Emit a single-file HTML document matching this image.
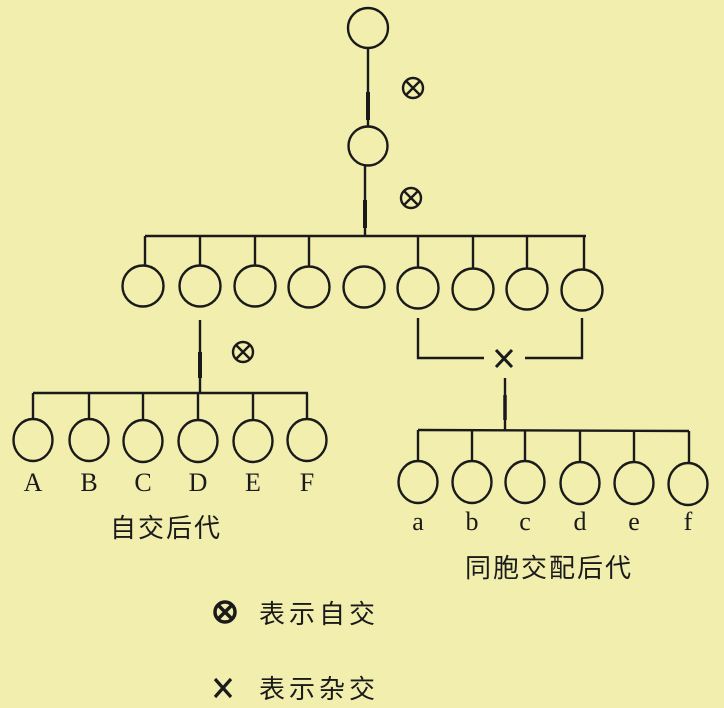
<!DOCTYPE html>
<html><head><meta charset="utf-8"><style>
html,body{margin:0;padding:0;background:#f1eeae;}
svg{display:block}
text{font-family:"Liberation Serif","Noto Serif CJK SC",serif;fill:#1a1a1a}
.c{font-family:"Liberation Sans","Noto Sans CJK SC",sans-serif}
</style></head><body>
<svg width="724" height="708" viewBox="0 0 724 708" xmlns="http://www.w3.org/2000/svg">
<rect width="724" height="708" fill="#f1eeae"/>
<g stroke="#1a1a1a" stroke-width="2.4" fill="none">
<circle cx="368" cy="28" r="20"/>
<line x1="368" y1="48" x2="368" y2="126"/>
<line x1="368" y1="92" x2="368" y2="120" stroke-width="4"/>
<circle cx="368" cy="146" r="19.5"/>
<line x1="365" y1="165" x2="365" y2="236"/>
<line x1="365" y1="200" x2="365" y2="228" stroke-width="4"/>
<line x1="145" y1="236" x2="586" y2="236"/>
<line x1="145" y1="236" x2="145" y2="265"/><circle cx="143" cy="286" r="20.5"/>
<line x1="200" y1="236" x2="200" y2="265"/><circle cx="200" cy="286" r="20.5"/>
<line x1="255" y1="236" x2="255" y2="265"/><circle cx="255" cy="286" r="20.5"/>
<line x1="309" y1="236" x2="309" y2="266"/><circle cx="309" cy="287" r="20.5"/>
<circle cx="364" cy="287" r="20.5"/>
<line x1="418" y1="236" x2="418" y2="267"/><circle cx="418" cy="288" r="20.5"/>
<line x1="473" y1="236" x2="473" y2="268"/><circle cx="473" cy="289" r="20.5"/>
<line x1="527" y1="236" x2="527" y2="268"/><circle cx="527" cy="289" r="20.5"/>
<line x1="584" y1="236" x2="584" y2="269"/><circle cx="582" cy="290" r="20.5"/>
<line x1="200" y1="320" x2="200" y2="393"/>
<line x1="200" y1="352" x2="200" y2="378" stroke-width="4"/>
<polyline points="418,318 418,358 484,358"/>
<polyline points="525,358 582,358 582,318"/>
<line x1="505" y1="378" x2="505" y2="430"/>
<line x1="505" y1="395" x2="505" y2="420" stroke-width="3.5"/>
<line x1="33" y1="393" x2="308" y2="393"/>
<line x1="33" y1="393" x2="33" y2="419"/><ellipse cx="33" cy="440" rx="19.5" ry="21"/>
<line x1="89" y1="393" x2="89" y2="419"/><ellipse cx="89" cy="440" rx="19.5" ry="21"/>
<line x1="143" y1="393" x2="143" y2="420"/><ellipse cx="143" cy="441" rx="19.5" ry="21"/>
<line x1="198" y1="393" x2="198" y2="420"/><ellipse cx="198" cy="441" rx="19.5" ry="21"/>
<line x1="253" y1="393" x2="253" y2="420"/><ellipse cx="253" cy="441" rx="19.5" ry="21"/>
<line x1="307" y1="393" x2="307" y2="419"/><ellipse cx="307" cy="440" rx="19.5" ry="21"/>
<line x1="418" y1="430" x2="689" y2="431"/>
<line x1="418" y1="430" x2="418" y2="461"/><ellipse cx="418" cy="482" rx="19.5" ry="21"/>
<line x1="472" y1="430" x2="472" y2="461"/><ellipse cx="472" cy="482" rx="19.5" ry="21"/>
<line x1="525" y1="430" x2="525" y2="461"/><ellipse cx="525" cy="482" rx="19.5" ry="21"/>
<line x1="580" y1="431" x2="580" y2="462"/><ellipse cx="580" cy="483" rx="19.5" ry="21"/>
<line x1="634" y1="431" x2="634" y2="462"/><ellipse cx="634" cy="483" rx="19.5" ry="21"/>
<line x1="689" y1="431" x2="689" y2="463"/><ellipse cx="688" cy="484" rx="19.5" ry="21"/>
<circle cx="413" cy="88" r="10"/><line x1="406" y1="81" x2="420" y2="95"/><line x1="420" y1="81" x2="406" y2="95"/>
<circle cx="411" cy="198" r="10"/><line x1="404" y1="191" x2="418" y2="205"/><line x1="418" y1="191" x2="404" y2="205"/>
<circle cx="243" cy="352" r="10"/><line x1="236" y1="345" x2="250" y2="359"/><line x1="250" y1="345" x2="236" y2="359"/>
<g stroke-width="3.5"><circle cx="225" cy="612" r="10"/><line x1="218" y1="605" x2="232" y2="619"/><line x1="232" y1="605" x2="218" y2="619"/></g>
<line x1="496" y1="350" x2="512" y2="367" stroke-width="3"/><line x1="512" y1="350" x2="496" y2="367" stroke-width="3"/>
<line x1="215" y1="679" x2="231" y2="697" stroke-width="3.2"/><line x1="231" y1="679" x2="215" y2="697" stroke-width="3.2"/>
</g>
<g font-size="26" text-anchor="middle">
<text x="33" y="491">A</text><text x="89" y="491">B</text><text x="143" y="491">C</text><text x="198" y="491">D</text><text x="253" y="491">E</text><text x="307" y="491">F</text>
<text x="418" y="530">a</text><text x="472" y="530">b</text><text x="525" y="530">c</text><text x="580" y="530">d</text><text x="634" y="530">e</text><text x="688" y="530">f</text>
</g>
<g font-size="26">
<text class="c" x="110" y="537" letter-spacing="2">自交后代</text>
<text class="c" x="465" y="577" letter-spacing="2">同胞交配后代</text>
<text class="c" x="259" y="623" letter-spacing="4">表示自交</text>
<text class="c" x="259" y="698" letter-spacing="4">表示杂交</text>
</g>
</svg>
</body></html>
